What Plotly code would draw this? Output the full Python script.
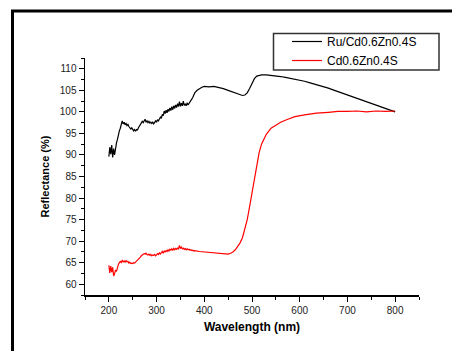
import plotly.graph_objects as go

# ---- data ----
series_names = ["Ru/Cd0.6Zn0.4S", "Cd0.6Zn0.4S"]

wl_noisy = list(range(200, 382, 2))  # 200..380 nm, 2 nm step

black_noisy = [
    89.6, 91.8, 90.2, 92.3, 89.4, 91.5, 90.0, 92.2, 92.8, 93.6,
    94.8, 95.6, 96.2, 97.0, 97.9, 97.2, 97.6, 97.0, 97.3, 96.8,
    97.1, 96.6, 96.4, 96.0, 96.3, 95.8, 95.6, 95.9, 95.5, 95.9,
    95.8, 96.3, 96.6, 97.0, 97.4, 97.8, 97.5, 97.9, 98.3, 97.6,
    97.9, 97.5, 97.8, 97.4, 97.6, 97.3, 97.6, 97.2, 97.5, 97.9,
    97.6, 98.2, 97.9, 98.4, 98.8, 98.5, 99.4, 99.1, 100.2, 99.6,
    100.4, 99.8, 100.6, 100.1, 100.9, 100.3, 101.2, 100.5, 101.4, 100.8,
    101.6, 101.0, 101.9, 101.2, 102.4, 101.3, 102.0, 101.4, 102.5, 101.5,
    101.8, 101.4, 102.1, 101.6, 101.9, 102.2, 102.6, 103.0, 103.4, 104.0,
    104.4,
]

red_noisy = [
    64.4, 62.6, 64.2, 62.8, 63.9, 61.9, 62.4, 63.3, 63.0, 64.2,
    64.6, 65.0, 65.3, 65.0, 65.5, 65.2, 65.4, 65.1, 65.5, 65.2,
    65.3, 64.9, 65.1, 64.8, 64.9, 64.8, 65.0, 64.9, 65.1, 65.3,
    65.5, 65.8, 66.1, 66.3, 66.6, 66.8, 66.9, 67.1, 67.0, 67.2,
    66.9, 66.8, 67.0, 66.7, 66.9, 66.6, 66.8, 66.7, 66.9, 66.6,
    66.8, 67.1, 66.9, 67.3, 67.0, 67.3, 67.6, 67.2, 67.7, 67.5,
    67.8, 67.6, 68.0, 67.7, 68.1, 67.9, 68.2, 67.9, 68.3, 68.0,
    68.3, 68.1, 68.4, 68.2, 69.0, 68.3, 68.6, 68.2, 68.4, 68.1,
    68.3, 68.0, 68.2, 68.0, 68.1, 67.9, 68.0, 67.8, 67.9, 67.7,
    67.8,
]

wl_black_smooth = [385, 390, 395, 400, 410, 420, 430, 440, 450, 460, 470, 480, 485,
                   490, 495, 500, 505, 510, 515, 520, 530, 540, 550, 560, 570, 580,
                   590, 600, 610, 620, 630, 640, 650, 660, 670, 680, 690, 700, 710,
                   720, 730, 740, 750, 760, 770, 780, 790, 800]
black_smooth = [105.0, 105.4, 105.7, 105.9, 105.8, 105.9, 105.7, 105.4, 105.0, 104.6,
                104.1, 103.8, 103.9, 104.4, 105.4, 106.6, 107.7, 108.3, 108.5, 108.6,
                108.6, 108.5, 108.4, 108.2, 108.0, 107.8, 107.6, 107.4, 107.1, 106.8,
                106.5, 106.2, 105.9, 105.5, 105.1, 104.7, 104.3, 103.9, 103.5, 103.1,
                102.7, 102.3, 101.9, 101.5, 101.1, 100.7, 100.3, 100.0]

wl_red_smooth = [390, 400, 410, 420, 430, 440, 450, 455, 460, 465, 470, 475, 480, 485,
                 490, 495, 500, 505, 510, 515, 520, 525, 530, 540, 550, 560, 575, 590,
                 610, 635, 660, 680, 700, 720, 740, 760, 780, 800]
red_smooth = [67.6, 67.5, 67.3, 67.2, 67.1, 67.0, 67.0, 67.2, 67.5, 68.0, 68.7, 69.6,
              70.8, 72.6, 75.0, 78.0, 81.2, 84.8, 88.0, 90.6, 92.5, 93.8, 94.8, 96.2,
              97.0, 97.6, 98.3, 98.9, 99.3, 99.7, 99.9, 100.1, 100.1, 100.2, 100.0,
              100.2, 100.1, 100.2]

wl_black = wl_noisy + wl_black_smooth
black = black_noisy + black_smooth
wl_red = wl_noisy + wl_red_smooth
red = red_noisy + red_smooth

x_title = "Wavelength (nm)"
y_title = "Reflectance (%)"

# ---- figure ----
W, H = 452, 351
ML, MR, MT, MB = 85, 33, 58, 56
PW, PH = W - ML - MR, H - MT - MB

def px_x(p):
    return (p - ML) / PW

def px_y(p):
    return 1 - (p - MT) / PH

FONT = "Liberation Sans, Arial, sans-serif"

fig = go.Figure()
fig.add_trace(go.Scatter(x=wl_black, y=black, mode="lines", name=series_names[0],
                         line=dict(color="#000000", width=1.2)))
fig.add_trace(go.Scatter(x=wl_red, y=red, mode="lines", name=series_names[1],
                         line=dict(color="#ff0000", width=1.2)))

axis_common = dict(
    showline=True, linecolor="#000000", linewidth=1.5,
    ticks="outside", ticklen=5, tickwidth=1, tickcolor="#000000",
    showgrid=False, zeroline=False, mirror=False,
    tickfont=dict(family=FONT, size=10, color="#222222"),
)

fig.update_xaxes(range=[150, 850], tick0=0, dtick=100,
                 minor=dict(ticks="outside", ticklen=3, dtick=50, tick0=0,
                            tickcolor="#000000", showgrid=False),
                 title=dict(text="<b>" + x_title + "</b>", standoff=8,
                            font=dict(family=FONT, size=12, color="#000000")),
                 **axis_common)
fig.update_yaxes(range=[57.5, 112.5], tick0=0, dtick=5,
                 minor=dict(ticks="outside", ticklen=3, dtick=2.5, tick0=0,
                            tickcolor="#000000", showgrid=False),
                 title=dict(text="<b>" + y_title + "</b>", standoff=8,
                            font=dict(family=FONT, size=11, color="#000000")),
                 **axis_common)

# outer frame (left and top edges visible)
fig.add_shape(type="line", xref="paper", yref="paper",
              x0=px_x(12.5), x1=px_x(12.5), y0=px_y(11), y1=px_y(360),
              line=dict(color="#000000", width=3))
fig.add_shape(type="line", xref="paper", yref="paper",
              x0=px_x(11), x1=px_x(460), y0=px_y(11), y1=px_y(11),
              line=dict(color="#000000", width=3))
# legend box
fig.add_shape(type="rect", xref="paper", yref="paper",
              x0=px_x(273.5), x1=px_x(439), y0=px_y(33.5), y1=px_y(70),
              line=dict(color="#333333", width=1.5), fillcolor="rgba(0,0,0,0)")

fig.update_layout(
    width=W, height=H,
    margin=dict(l=ML, r=MR, t=MT, b=MB, autoexpand=False),
    paper_bgcolor="#ffffff", plot_bgcolor="#ffffff",
    showlegend=True,
    legend=dict(x=px_x(287), y=px_y(27), xanchor="left", yanchor="top",
                bgcolor="rgba(0,0,0,0)", borderwidth=0, itemwidth=30,
                tracegroupgap=0,
                font=dict(family=FONT, size=12, color="#000000")),
)

fig.write_html("out.html",
               config={"displayModeBar": False, "staticPlot": True},
               post_script="document.body.style.margin='0';document.body.style.overflow='hidden';")
